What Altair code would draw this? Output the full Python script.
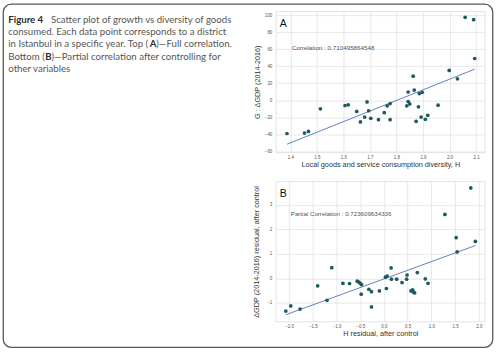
import altair as alt
import pandas as pd

# Panel A: consumption diversity H vs GDP growth
a_h = [1.387, 1.453, 1.468, 1.513, 1.606, 1.618, 1.650, 1.664, 1.680, 1.689,
       1.695, 1.703, 1.732, 1.754, 1.765, 1.776, 1.776, 1.839, 1.844, 1.844,
       1.850, 1.867, 1.874, 1.883, 1.886, 1.897, 1.893, 1.909, 1.918, 1.957,
       2.059, 2.091, 2.095, 1.999, 2.030, 1.863]
a_g = [-39.2, -38.7, -36.8, -10.1, -6.2, -5.4, -13.2, -25.6, -19.8, -2.0,
       -12.4, -21.3, -22.9, -14.7, -6.6, -3.9, -22.9, -6.6, -1.6, 9.7,
       -4.3, 12.0, -24.8, -7.8, 7.8, 9.3, -19.8, -22.5, -17.8, -5.8,
       97.7, 95.0, 49.2, 35.2, 25.2, 28.3]

# Panel B: residuals after controlling for other variables
b_h = [-2.069, -1.964, -1.769, -1.397, -1.20, -1.10, -0.865, -0.725, -0.563, -0.529,
       -0.500, -0.473, -0.479, -0.319, -0.263, -0.263, -0.095, 0.032, 0.067, 0.053,
       0.151, 0.158, 0.269, 0.382, 0.487, 0.479, 0.571, 0.605, 0.620, 0.647,
       0.704, 0.872, 0.929, 1.544, 1.523, 1.929, 1.286, 1.832]
b_g = [-1.33, -1.12, -1.25, -0.30, -0.89, 0.44, -0.20, -0.21, -0.11, -0.15,
       -0.20, -0.25, -0.64, -0.44, -0.54, -1.16, -0.51, 0.05, 0.09, -0.41,
       0.43, -0.03, -0.03, -0.17, 0.14, -0.03, -0.51, -0.47, -0.55, -0.59,
       0.24, -0.02, -0.20, 1.08, 1.66, 1.51, 2.61, 3.69]

a_xticks = [1.4, 1.5, 1.6, 1.7, 1.8, 1.9, 2.0, 2.1]
a_yticks = [-60, -40, -20, 0, 20, 40, 60, 80, 100]
b_xticks = [-2.0, -1.5, -1.0, -0.5, 0.0, 0.5, 1.0, 1.5, 2.0]
b_yticks = [-1, 0, 1, 2, 3]

# Caption: (text, bold, left x in px, line number)
caption = [
    ("Figure 4", True, 7, 0),
    ("Scatter plot of growth vs diversity of goods", False, 50, 0),
    ("consumed. Each data point corresponds to a district", False, 7, 1),
    ("in Istanbul in a specific year. Top (", False, 7, 2),
    ("A", True, 149.3, 2),
    (")\u2014Full correlation.", False, 155.8, 2),
    ("Bottom (", False, 7, 3),
    ("B", True, 44.1, 3),
    (")\u2014Partial correlation after controlling for", False, 50.5, 3),
    ("other variables", False, 7, 4),
]

POINT = "#1e5a5e"
FIT = "#6480c0"
W, HA, HB = 210, 142, 141
ORIGIN_A = (276, 9)  # page position of panel A's plot area
ONE = pd.DataFrame({"k": [0]})


def axis(values, fmt, title, label_pad, title_pad):
    # tickCount must not be below the number of explicit values,
    # otherwise Vega thins them out
    return alt.Axis(values=values, tickCount=len(values) + 2, format=fmt, title=title,
                    labelOverlap=False, labelBound=False, labelFlush=False,
                    labelPadding=label_pad, titlePadding=title_pad)


def scatter(h, g, xdom, ydom, xticks, yticks, xtitle, ytitle, ytitle_pad):
    df = pd.DataFrame({"h": h, "g": g})
    x = alt.X("h:Q", scale=alt.Scale(domain=xdom, nice=False, zero=False),
              axis=axis(xticks, ".1f", xtitle, 2, 2))
    y = alt.Y("g:Q", scale=alt.Scale(domain=ydom, nice=False, zero=False),
              axis=axis(yticks, "d", ytitle, 4, ytitle_pad))
    base = alt.Chart(df)
    pts = base.mark_circle(size=14, color=POINT, opacity=1).encode(x=x, y=y)
    fit = base.transform_regression("h", "g").mark_line(
        color=FIT, strokeWidth=1).encode(x="h:Q", y="g:Q")
    return pts, fit


def label(text, x, y, size, color):
    return alt.Chart(ONE).mark_text(
        text=text, align="left", baseline="middle", font="Liberation Sans",
        fontSize=size, color=color
    ).encode(x=alt.value(x), y=alt.value(y))


pts_a, fit_a = scatter(a_h, a_g, [1.345, 2.133], [-61.5, 105], a_xticks, a_yticks,
                       "Local goods and service consumption diversity, H",
                       "G : \u0394GDP (2014-2016)", 3)
pts_b, fit_b = scatter(b_h, b_g, [-2.279, 2.126], [-1.756, 3.96], b_xticks, b_yticks,
                       "H residual, after control",
                       "\u0394GDP (2014-2016) residual, after control", 6)

# outer rounded frame and caption, drawn relative to panel A's origin
ox, oy = ORIGIN_A
frame = alt.Chart(ONE).mark_rect(
    filled=False, stroke="#5a5a5a", strokeWidth=1.3, cornerRadius=8
).encode(x=alt.value(2 - ox), x2=alt.value(494 - ox),
         y=alt.value(2 - oy), y2=alt.value(347 - oy))

cap_layers = []
for text, bold, cx, line in caption:
    cap_layers.append(alt.Chart(ONE).mark_text(
        text=text, align="left", baseline="middle", font="Lato",
        fontSize=9.7, color="#2b2b2b" if bold else "#555555",
        fontWeight="bold" if bold else "normal"
    ).encode(x=alt.value(cx - ox), y=alt.value(17.5 + 12.5 * line - oy)))

panel_a = alt.layer(
    frame, *cap_layers, fit_a, pts_a,
    label("A", 4, 12.7, 10.5, "#111111"),
    label("Correlation : 0.710495864548", 16, 37, 6.3, "#555555"),
).properties(width=W, height=HA)

panel_b = alt.layer(
    fit_b, pts_b,
    label("B", 4, 13.3, 10.5, "#111111"),
    label("Partial Correlation : 0.723609634336", 15, 32.7, 6.2, "#555555"),
).properties(width=W, height=HB)

chart = alt.vconcat(panel_a, panel_b, spacing=29, bounds="flush").properties(
    padding={"left": 1.3, "top": 1.3, "right": 1.3, "bottom": 1.3},
    background="white",
).configure_view(
    stroke="#dcdcdc", strokeWidth=0.8
).configure_axis(
    grid=True, gridColor="#e2e2e2", gridWidth=0.8, domain=False, ticks=False,
    labelFontSize=4.5, labelColor="#555555", labelFont="Liberation Sans",
    titleFontSize=7.3, titleColor="#333333", titleFont="Liberation Sans",
    titleFontWeight="normal"
)

chart.save("out.html", embed_options={"renderer": "svg", "actions": False})
